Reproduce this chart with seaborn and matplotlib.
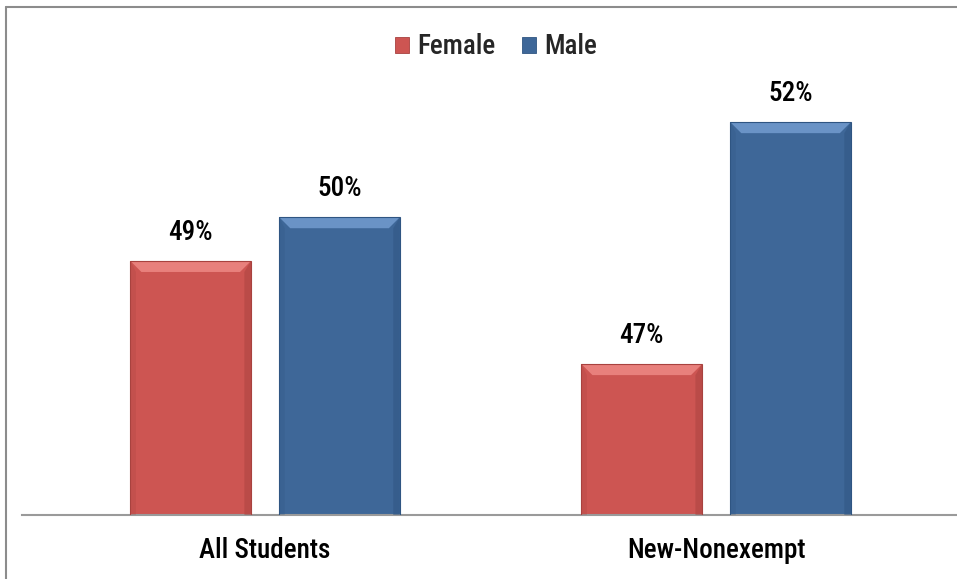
import matplotlib
matplotlib.use("Agg")
import matplotlib.pyplot as plt
import seaborn as sns
import pandas as pd
from matplotlib.patches import Polygon, Rectangle
from matplotlib.lines import Line2D

categories = ["All Students", "New-Nonexempt"]
genders = ["Female", "Male"]
female_values = [49.05, 47.0]
male_values = [49.92, 51.81]
female_labels = ["49%", "47%"]
male_labels = ["50%", "52%"]

colors = {"Female": "#CD5552", "Male": "#3E6798"}
light = {"Female": "#E8807C", "Male": "#6A93C6"}
dark = {"Female": "#A8423F", "Male": "#2F5582"}

df = pd.DataFrame({
    "category": categories * 2,
    "gender": ["Female"] * len(categories) + ["Male"] * len(categories),
    "value": female_values + male_values,
    "label": female_labels + male_labels,
})

sns.set_theme(style="white")
FONT = ["Roboto Condensed", "Archivo Narrow", "Liberation Sans", "DejaVu Sans"]
plt.rcParams["font.family"] = FONT
plt.rcParams["font.weight"] = 500
FS = 19.5

W, H = 957, 579
fig = plt.figure(figsize=(W / 100, H / 100), dpi=100)
ax = fig.add_axes([22 / W, 1 - 515 / H, (957 - 22) / W, (515 - 10) / H])

sns.barplot(data=df, x="category", y="value", hue="gender", order=categories,
            hue_order=genders, palette=colors, width=0.66, gap=0.19,
            saturation=1, ax=ax, legend=False, edgecolor="none")

ymin = 44.0
ax.set_ylim(ymin, 44 + 505 / 50.3)
ax.set_xlim(-0.539, 1.534)

# bevel effect + labels derived from the bars
fig.canvas.draw()
inv = ax.transData.inverted()
bev_px = 11
bars = list(ax.patches)
for patch, g_idx in zip(bars, [0, 0, 1, 1]):
    g = genders[g_idx]
    x0, y0 = patch.get_x(), patch.get_y()
    w, h = patch.get_width(), patch.get_height()
    p0 = ax.transData.transform((x0, y0 + h))
    dx = inv.transform((p0[0] + bev_px, p0[1]))[0] - x0
    dy = (y0 + h) - inv.transform((p0[0], p0[1] - bev_px))[1]
    top = y0 + h
    x1 = x0 + w
    ax.add_patch(Polygon([(x0, top), (x1, top), (x1 - dx, top - dy), (x0 + dx, top - dy)],
                         closed=True, facecolor=light[g], edgecolor="none", zorder=3))
    ax.add_patch(Polygon([(x1, ymin), (x1, top), (x1 - dx * 0.6, top - dy), (x1 - dx * 0.6, ymin)],
                         closed=True, facecolor=dark[g], edgecolor="none", alpha=0.5, zorder=3))
    ax.add_patch(Polygon([(x0, ymin), (x0, top), (x0 + dx * 0.5, top - dy), (x0 + dx * 0.5, ymin)],
                         closed=True, facecolor=dark[g], edgecolor="none", alpha=0.25, zorder=3))
    ax.add_patch(Rectangle((x0, y0), w, h, facecolor="none", edgecolor=dark[g],
                           linewidth=0.8, zorder=4))

for patch, lab in zip(bars, df["label"]):
    cx = patch.get_x() + patch.get_width() / 2
    top = patch.get_y() + patch.get_height()
    ax.annotate(lab, (cx, top), xytext=(0, 11), textcoords="offset points",
                ha="center", va="bottom", fontsize=FS, color="black", family=FONT,
                fontweight=500)

ax.set_xlabel("")
ax.set_ylabel("")
ax.set_yticks([])
ax.tick_params(axis="x", length=0, pad=16, labelsize=FS, colors="black")
for lab in ax.get_xticklabels():
    lab.set_family(FONT)
    lab.set_fontweight(500)
for s in ["top", "right", "left"]:
    ax.spines[s].set_visible(False)
ax.spines["bottom"].set_color("#9A9A9A")
ax.spines["bottom"].set_linewidth(1.5)

handles = [Rectangle((0, 0), 1, 1, facecolor=colors[g], edgecolor=dark[g], linewidth=0.6)
           for g in genders]
fig.legend(handles, genders, loc="center", bbox_to_anchor=(496 / W, 1 - 47 / H),
           ncol=2, frameon=False, handlelength=0.5, handleheight=0.5,
           handletextpad=0.3, columnspacing=1.0,
           prop={"family": FONT, "size": FS, "weight": 500})

# outer frame
fig.add_artist(Line2D([5.5 / W, 5.5 / W], [0, 1 - 7 / H], transform=fig.transFigure,
                      color="#8C8C8C", linewidth=1.5))
fig.add_artist(Line2D([5.5 / W, 1], [1 - 7 / H, 1 - 7 / H], transform=fig.transFigure,
                      color="#8C8C8C", linewidth=1.5))

fig.savefig("out.png", dpi=100)
